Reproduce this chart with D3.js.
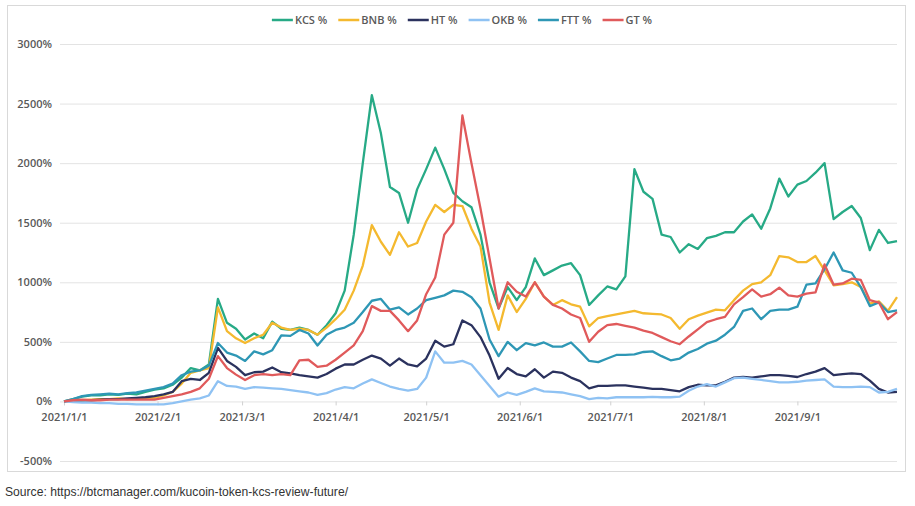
<!DOCTYPE html>
<html>
<head>
<meta charset="utf-8">
<script src="https://d3js.org/d3.v7.min.js"></script>
<style>
  body { margin: 0; background: #fff; }
  svg text { font-family: "Open Sans", sans-serif; }
</style>
</head>
<body>
<div id="my_dataviz"></div>
<script>
// data: % change since 2021/1/1, one reading every 3 days
var startDate = new Date(2021, 0, 1);
var stepDays = 3;

var seriesNames = ["KCS %", "BNB %", "HT %", "OKB %", "FTT %", "GT %"];

var kcs = [
  0, 20, 40, 50, 50, 60, 55, 65, 60, 80,
  100, 110, 140, 200, 280, 260, 310, 860, 660, 610,
  520, 570, 530, 670, 610, 600, 620, 600, 560, 640,
  740, 930, 1400, 2000, 2570, 2250, 1800, 1750, 1500, 1780,
  1950, 2130, 1950, 1750, 1680, 1630, 1400, 1000, 780, 960,
  850, 960, 1200, 1060, 1100, 1140, 1160, 1060, 810, 890,
  965, 940, 1050, 1950, 1760, 1700, 1400, 1380, 1250, 1320,
  1280, 1370, 1390, 1420, 1420, 1510, 1570, 1450, 1620, 1870,
  1720, 1820, 1850, 1920, 2000, 1530, 1590, 1640, 1540, 1270,
  1440, 1330, 1345];

var bnb = [
  0, 5, 10, 15, 20, 20, 25, 20, 25, 30,
  30, 50, 80, 150, 240, 260, 280, 790, 590, 530,
  490, 530, 560, 660, 620, 600, 610, 600, 560, 620,
  690, 770, 930, 1140, 1480, 1340, 1230, 1420, 1300, 1330,
  1510, 1650, 1590, 1650, 1640, 1450, 1300, 830, 600, 890,
  750, 860, 1000, 880, 810, 850, 815, 795, 630, 700,
  715, 730, 745, 760, 740, 735, 730, 700, 610, 690,
  720, 745, 770, 765, 850, 930, 985, 1000, 1060, 1220,
  1210, 1170, 1170, 1220, 1100, 975, 985, 1000, 960, 820,
  840, 760, 875];

var ht = [
  0, 5, 10, 10, 15, 20, 20, 25, 30, 35,
  45, 60, 80, 170, 190, 180, 240, 450, 340, 290,
  220, 245, 250, 285, 245, 235, 220, 210, 200, 230,
  275, 310, 310, 350, 385, 360, 300, 360, 310, 295,
  360, 510, 460, 480, 680, 640, 540, 385, 190, 280,
  230, 210, 270, 200, 250, 240, 200, 170, 110, 130,
  130, 135, 135, 125, 115, 105, 105, 95, 85, 120,
  140, 135, 135, 165, 200, 205, 200, 210, 220, 220,
  215, 205, 230, 250, 280, 220, 230, 235, 230, 175,
  105, 75, 80];

var okb = [
  0, -5, -10, -10, -15, -15, -20, -20, -25, -25,
  -25, -25, -15, 0, 15, 25, 50, 170, 130, 125,
  105, 120, 115, 110, 105, 95, 85, 75, 55, 70,
  100, 120, 110, 150, 185, 155, 125, 105, 90, 105,
  200, 420, 325, 325, 340, 310, 220, 130, 40, 75,
  55, 80, 110, 85, 80, 75, 60, 45, 20, 30,
  25, 35, 35, 35, 35, 38, 35, 35, 40, 90,
  125, 145, 125, 160, 195, 200, 190, 180, 170, 160,
  160, 165, 175, 180, 185, 125, 120, 120, 125, 120,
  75, 80, 105];

var ftt = [
  0, 20, 45, 55, 60, 65, 60, 70, 75, 90,
  105, 120, 150, 220, 250, 260, 300, 490, 410, 385,
  340, 420, 395, 430, 555, 550, 600, 570, 470, 560,
  600, 620, 660, 750, 845, 860, 770, 790, 730, 780,
  850, 870, 890, 930, 920, 875, 780, 520, 380, 500,
  430, 490, 470, 495, 460, 460, 495, 420, 340, 330,
  360, 390, 390, 395, 415, 420, 380, 345, 360, 410,
  440, 485, 510, 560, 625, 760, 780, 690, 760, 770,
  770, 795, 980, 990, 1110, 1250, 1100, 1080, 960, 800,
  830, 750, 765];

var gt = [
  0, 10, 15, 10, 10, 15, 15, 15, 15, 15,
  15, 30, 45, 60, 80, 110, 190, 380, 280, 225,
  180, 220, 230, 220, 230, 220, 345, 350, 290, 300,
  350, 410, 470, 590, 800, 760, 760, 680, 590, 680,
  900, 1040, 1400, 1500, 2400, 2000, 1620, 1200, 780, 1000,
  920, 880, 1000, 880, 810, 780, 730, 700, 500, 585,
  640, 650, 635, 620, 595, 575, 540, 505, 480, 545,
  605, 665, 690, 710, 815, 875, 940, 880, 900, 955,
  890, 880, 905, 915, 1150, 980, 990, 1030, 1020, 850,
  830, 690, 750];

var xTickLabels = ["2021/1/1", "2021/2/1", "2021/3/1", "2021/4/1", "2021/5/1",
                   "2021/6/1", "2021/7/1", "2021/8/1", "2021/9/1"];
var yTicks = [-500, 0, 500, 1000, 1500, 2000, 2500, 3000];

var sourceText = "Source: https://btcmanager.com/kucoin-token-kcs-review-future/";

var allSeries = [kcs, bnb, ht, okb, ftt, gt];
var colors = ["#27aa86", "#f4b92f", "#2b325e", "#8fc2f3", "#2e97b5", "#e05a5b"];

// dates for each reading
var dates = kcs.map(function(d, i) { return d3.timeDay.offset(startDate, i * stepDays); });

var W = 915, H = 506;
var plot = {left: 60, right: 897, top: 44, bottom: 461};

var svg = d3.select("#my_dataviz")
  .append("svg")
    .attr("width", W)
    .attr("height", H);

// chart frame
svg.append("rect")
  .attr("x", 7.5).attr("y", 5.5)
  .attr("width", 898).attr("height", 466)
  .attr("fill", "#fff")
  .attr("stroke", "#d9d9d9");

// scales
var x = d3.scaleTime()
  .domain([startDate, dates[dates.length - 1]])
  .range([64, plot.right]);

var y = d3.scaleLinear()
  .domain([-500, 3000])
  .range([plot.bottom, plot.top]);

// Y axis with gridlines
var yAxis = svg.append("g")
  .attr("transform", "translate(" + plot.left + ",0)")
  .call(d3.axisLeft(y)
    .tickValues(yTicks)
    .tickSize(-(plot.right - plot.left))
    .tickPadding(8)
    .tickFormat(function(d) { return d + "%"; }));
yAxis.select(".domain").remove();
yAxis.selectAll("line").attr("stroke", "#e3e3e3");
yAxis.selectAll("text")
  .attr("fill", "#595959")
  .style("font-size", "11px")
  .style("font-weight", "600");

// X axis on the 0% line
var parseDay = d3.timeParse("%Y/%m/%d");
var xAxis = svg.append("g")
  .attr("transform", "translate(0," + y(0) + ")")
  .call(d3.axisBottom(x)
    .tickValues(xTickLabels.map(parseDay))
    .tickSize(4)
    .tickPadding(8)
    .tickFormat(d3.timeFormat("%Y/%-m/%-d")));
xAxis.select(".domain").remove();
xAxis.selectAll("line").attr("stroke", "#d0d0d0");
xAxis.selectAll("text")
  .attr("fill", "#595959")
  .style("font-size", "11px")
  .style("font-weight", "600");

// lines
var line = d3.line()
  .x(function(d, i) { return x(dates[i]); })
  .y(function(d) { return y(d); });

svg.append("g")
  .selectAll("path")
  .data(allSeries)
  .enter()
  .append("path")
    .attr("d", line)
    .attr("fill", "none")
    .attr("stroke", function(d, i) { return colors[i]; })
    .attr("stroke-width", 2.3)
    .attr("stroke-linejoin", "round");

// legend
var legend = svg.append("g");
var lx = 0;
seriesNames.forEach(function(name, i) {
  var item = legend.append("g").attr("transform", "translate(" + lx + ",0)");
  item.append("line")
    .attr("x1", 0).attr("x2", 21)
    .attr("stroke", colors[i])
    .attr("stroke-width", 2.5);
  var t = item.append("text")
    .attr("x", 23)
    .attr("y", 4)
    .attr("fill", "#595959")
    .style("font-size", "11px")
    .style("font-weight", "600")
    .text(name);
  lx += 23 + t.node().getComputedTextLength() + 11;
});
lx -= 11;
legend.attr("transform", "translate(" + (462 - lx / 2) + ",20)");

// source line under the chart
svg.append("text")
  .attr("x", 5)
  .attr("y", 496)
  .attr("fill", "#333")
  .attr("textLength", 343)
  .attr("lengthAdjust", "spacingAndGlyphs")
  .style("font-family", "'Liberation Sans', Arial, sans-serif")
  .style("font-size", "13px")
  .text(sourceText);
</script>
</body>
</html>
